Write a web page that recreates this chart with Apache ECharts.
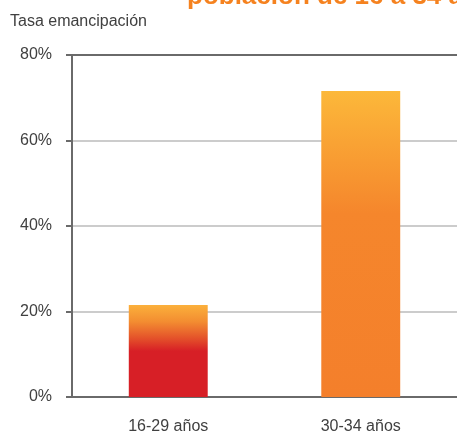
<!DOCTYPE html>
<html>
<head>
<meta charset="utf-8">
<script src="https://cdn.jsdelivr.net/npm/echarts@6/dist/echarts.min.js"></script>
<style>
   html, body { margin: 0; padding: 0; background: #fff; }
   #chart { width: 457px; height: 435px; }
</style>
</head>
<body>
<div id="chart"></div>
<script>
var categories = [ '16-29 años', '30-34 años' ] ;
var rates = [ 21.5, 71.6 ] ;
var yTicks = [ 0, 20, 40, 60, 80 ] ;
var yTitle = 'Tasa emancipación' ;
var headline = 'población de 16 a 34 años' ;

//每根柱子的渐变色
var barGradients = [
   [ [ 0, '#fbb03b' ], [ 0.18, '#f38d31' ], [ 0.36, '#e4522a' ], [ 0.5, '#d71f26' ], [ 1, '#d71f26' ] ],
   [ [ 0, '#fcb83a' ], [ 0.4, '#f5862c' ], [ 1, '#f47f2b' ] ]
] ;

var font = '"Liberation Sans", Arial, sans-serif' ;

var barData = [] ;
for( var i = 0; i < rates.length; ++i )
{
   var stops = [] ;
   for( var k = 0; k < barGradients[i].length; ++k )
   {
      stops.push( { offset: barGradients[i][k][0], color: barGradients[i][k][1] } ) ;
   }
   barData.push( {
      value: rates[i],
      itemStyle: { color: new echarts.graphic.LinearGradient( 0, 0, 0, 1, stops ) }
   } ) ;
}

var chart = echarts.init( document.getElementById( 'chart' ), null, { renderer: 'canvas' } ) ;
chart.setOption( {
   animation: false,
   title: {
      text: yTitle,
      left: 5,
      top: 9,
      textStyle: { fontFamily: font, fontSize: 16, fontWeight: 'normal', color: '#404040' }
   },
   //顶部被裁掉的大标题
   graphic: [ {
      type: 'text',
      left: 187,
      top: -16,
      style: { text: headline, fontFamily: font, fontSize: 26, fontWeight: 'bold', fill: '#f5821f' }
   } ],
   grid: { left: 72, right: -2, top: 55, bottom: 38, containLabel: false },
   xAxis: {
      type: 'category',
      data: categories,
      axisLine: { lineStyle: { color: '#6a6a6a', width: 2 } },
      axisTick: { show: false },
      axisLabel: { margin: 22, fontFamily: font, fontSize: 16, color: '#404040' }
   },
   yAxis: {
      type: 'value',
      min: yTicks[0],
      max: yTicks[yTicks.length - 1],
      interval: yTicks[1] - yTicks[0],
      axisLine: { show: true, lineStyle: { color: '#6a6a6a', width: 2 } },
      axisTick: { show: true, length: 6, lineStyle: { color: '#6a6a6a', width: 2 } },
      axisLabel: { margin: 20, fontFamily: font, fontSize: 16, color: '#404040', formatter: '{value}%' },
      splitLine: { show: true, lineStyle: { color: [ '#6a6a6a', '#cccccc', '#cccccc', '#cccccc', '#6a6a6a' ], width: 2 } }
   },
   series: [ {
      type: 'bar',
      data: barData,
      barWidth: '41%'
   } ]
} ) ;
</script>
</body>
</html>
